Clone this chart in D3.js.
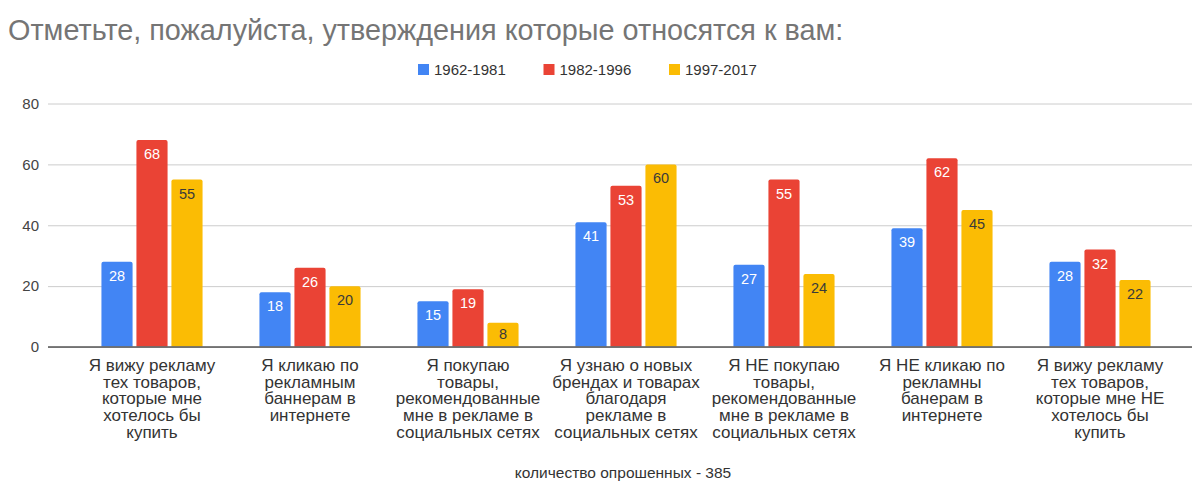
<!DOCTYPE html>
<html><head><meta charset="utf-8">
<script src="https://cdn.jsdelivr.net/npm/d3@7"></script>
<style>
html,body{margin:0;padding:0;background:#fff;}
svg{display:block;font-family:Arial,"Liberation Sans",sans-serif;}
</style></head>
<body><svg id="c" width="1195" height="482"></svg>
<script>
const title = "Отметьте, пожалуйста, утверждения которые относятся к вам:";
const footer = "количество опрошенных - 385";
const categories = [
  "Я вижу рекламу\nтех товаров,\nкоторые мне\nхотелось бы\nкупить",
  "Я кликаю по\nрекламным\nбаннерам в\nинтернете",
  "Я покупаю\nтовары,\nрекомендованные\nмне в рекламе в\nсоциальных сетях",
  "Я узнаю о новых\nбрендах и товарах\nблагодаря\nрекламе в\nсоциальных сетях",
  "Я НЕ покупаю\nтовары,\nрекомендованные\nмне в рекламе в\nсоциальных сетях",
  "Я НЕ кликаю по\nрекламны\nбанерам в\nинтернете",
  "Я вижу рекламу\nтех товаров,\nкоторые мне НЕ\nхотелось бы\nкупить"
];
const seriesNames = ["1962-1981", "1982-1996", "1997-2017"];
const s1962 = [28, 18, 15, 41, 27, 39, 28];
const s1982 = [68, 26, 19, 53, 55, 62, 32];
const s1997 = [55, 20, 8, 60, 24, 45, 22];
const yTicks = [0, 20, 40, 60, 80];
const colors = ["#4285F4", "#EA4335", "#FBBC04"];
const labelColors = ["#ffffff", "#ffffff", "#3a3a3a"];

const series = [s1962, s1982, s1997];
const svg = d3.select("#c");

const y = d3.scaleLinear().domain([0, 80]).range([347, 103.5]);
const x0 = d3.scaleBand().domain(d3.range(categories.length)).range([73, 1179]).paddingInner(0.36).paddingOuter(0.18);
const x1 = d3.scaleBand().domain(d3.range(seriesNames.length)).range([0, x0.bandwidth()]).paddingInner(0.11);

// title
svg.append("text").attr("x", 8).attr("y", 40).attr("fill", "#757575")
  .style("font-size", "28.8px").text(title);

// legend
const legend = svg.append("g").attr("transform", "translate(418,0)");
seriesNames.forEach((n, i) => {
  const g = legend.append("g").attr("transform", `translate(${i * 125.5},0)`);
  g.append("rect").attr("x", 0).attr("y", 64).attr("width", 11).attr("height", 11).attr("fill", colors[i]);
  g.append("text").attr("x", 16).attr("y", 75).attr("fill", "#333").style("font-size", "15px").text(n);
});

// grid + y labels
const yAxis = d3.axisLeft(y).tickValues(yTicks).tickSize(-(1192 - 48)).tickPadding(9);
const ya = svg.append("g").attr("transform", "translate(48,0)").call(yAxis);
ya.select(".domain").remove();
ya.selectAll(".tick line").attr("stroke", "#cccccc").attr("stroke-width", 1);
ya.selectAll(".tick text").attr("fill", "#444").style("font-size", "15px")
  .style("font-family", "Arial,'Liberation Sans',sans-serif");

// bars
const r = 2;
function barPath(x, yTop, w, yBase) {
  const h = yBase - yTop;
  const rr = Math.min(r, h / 2);
  return `M${x},${yBase}V${yTop + rr}Q${x},${yTop} ${x + rr},${yTop}H${x + w - rr}Q${x + w},${yTop} ${x + w},${yTop + rr}V${yBase}Z`;
}
const groups = svg.append("g").selectAll("g").data(categories).join("g")
  .attr("transform", (d, i) => `translate(${x0(i)},0)`);
series.forEach((vals, si) => {
  groups.append("path")
    .attr("d", (d, i) => barPath(x1(si), y(vals[i]), x1.bandwidth(), y(0) - 0.5))
    .attr("fill", colors[si]);
  groups.append("text")
    .attr("x", x1(si) + x1.bandwidth() / 2)
    .attr("y", (d, i) => Math.min(y(vals[i]) + 19, y(0) - 8))
    .attr("text-anchor", "middle").attr("fill", labelColors[si])
    .style("font-size", "14.5px").text((d, i) => vals[i]);
});
// baseline over bars
svg.append("line").attr("x1", 48).attr("x2", 1192).attr("y1", y(0)).attr("y2", y(0))
  .attr("stroke", "#555").attr("stroke-width", 1.5);

// category labels
groups.append("text").attr("text-anchor", "middle").attr("fill", "#333").style("font-size", "17px")
  .each(function (d) {
    const t = d3.select(this);
    d.split("\n").forEach((line, k) => {
      t.append("tspan").attr("x", x0.bandwidth() / 2).attr("y", 371 + k * 16.7).text(line);
    });
  });

// footer
svg.append("text").attr("x", 623).attr("y", 478).attr("text-anchor", "middle").attr("fill", "#333")
  .style("font-size", "15.5px").text(footer);
</script></body></html>
